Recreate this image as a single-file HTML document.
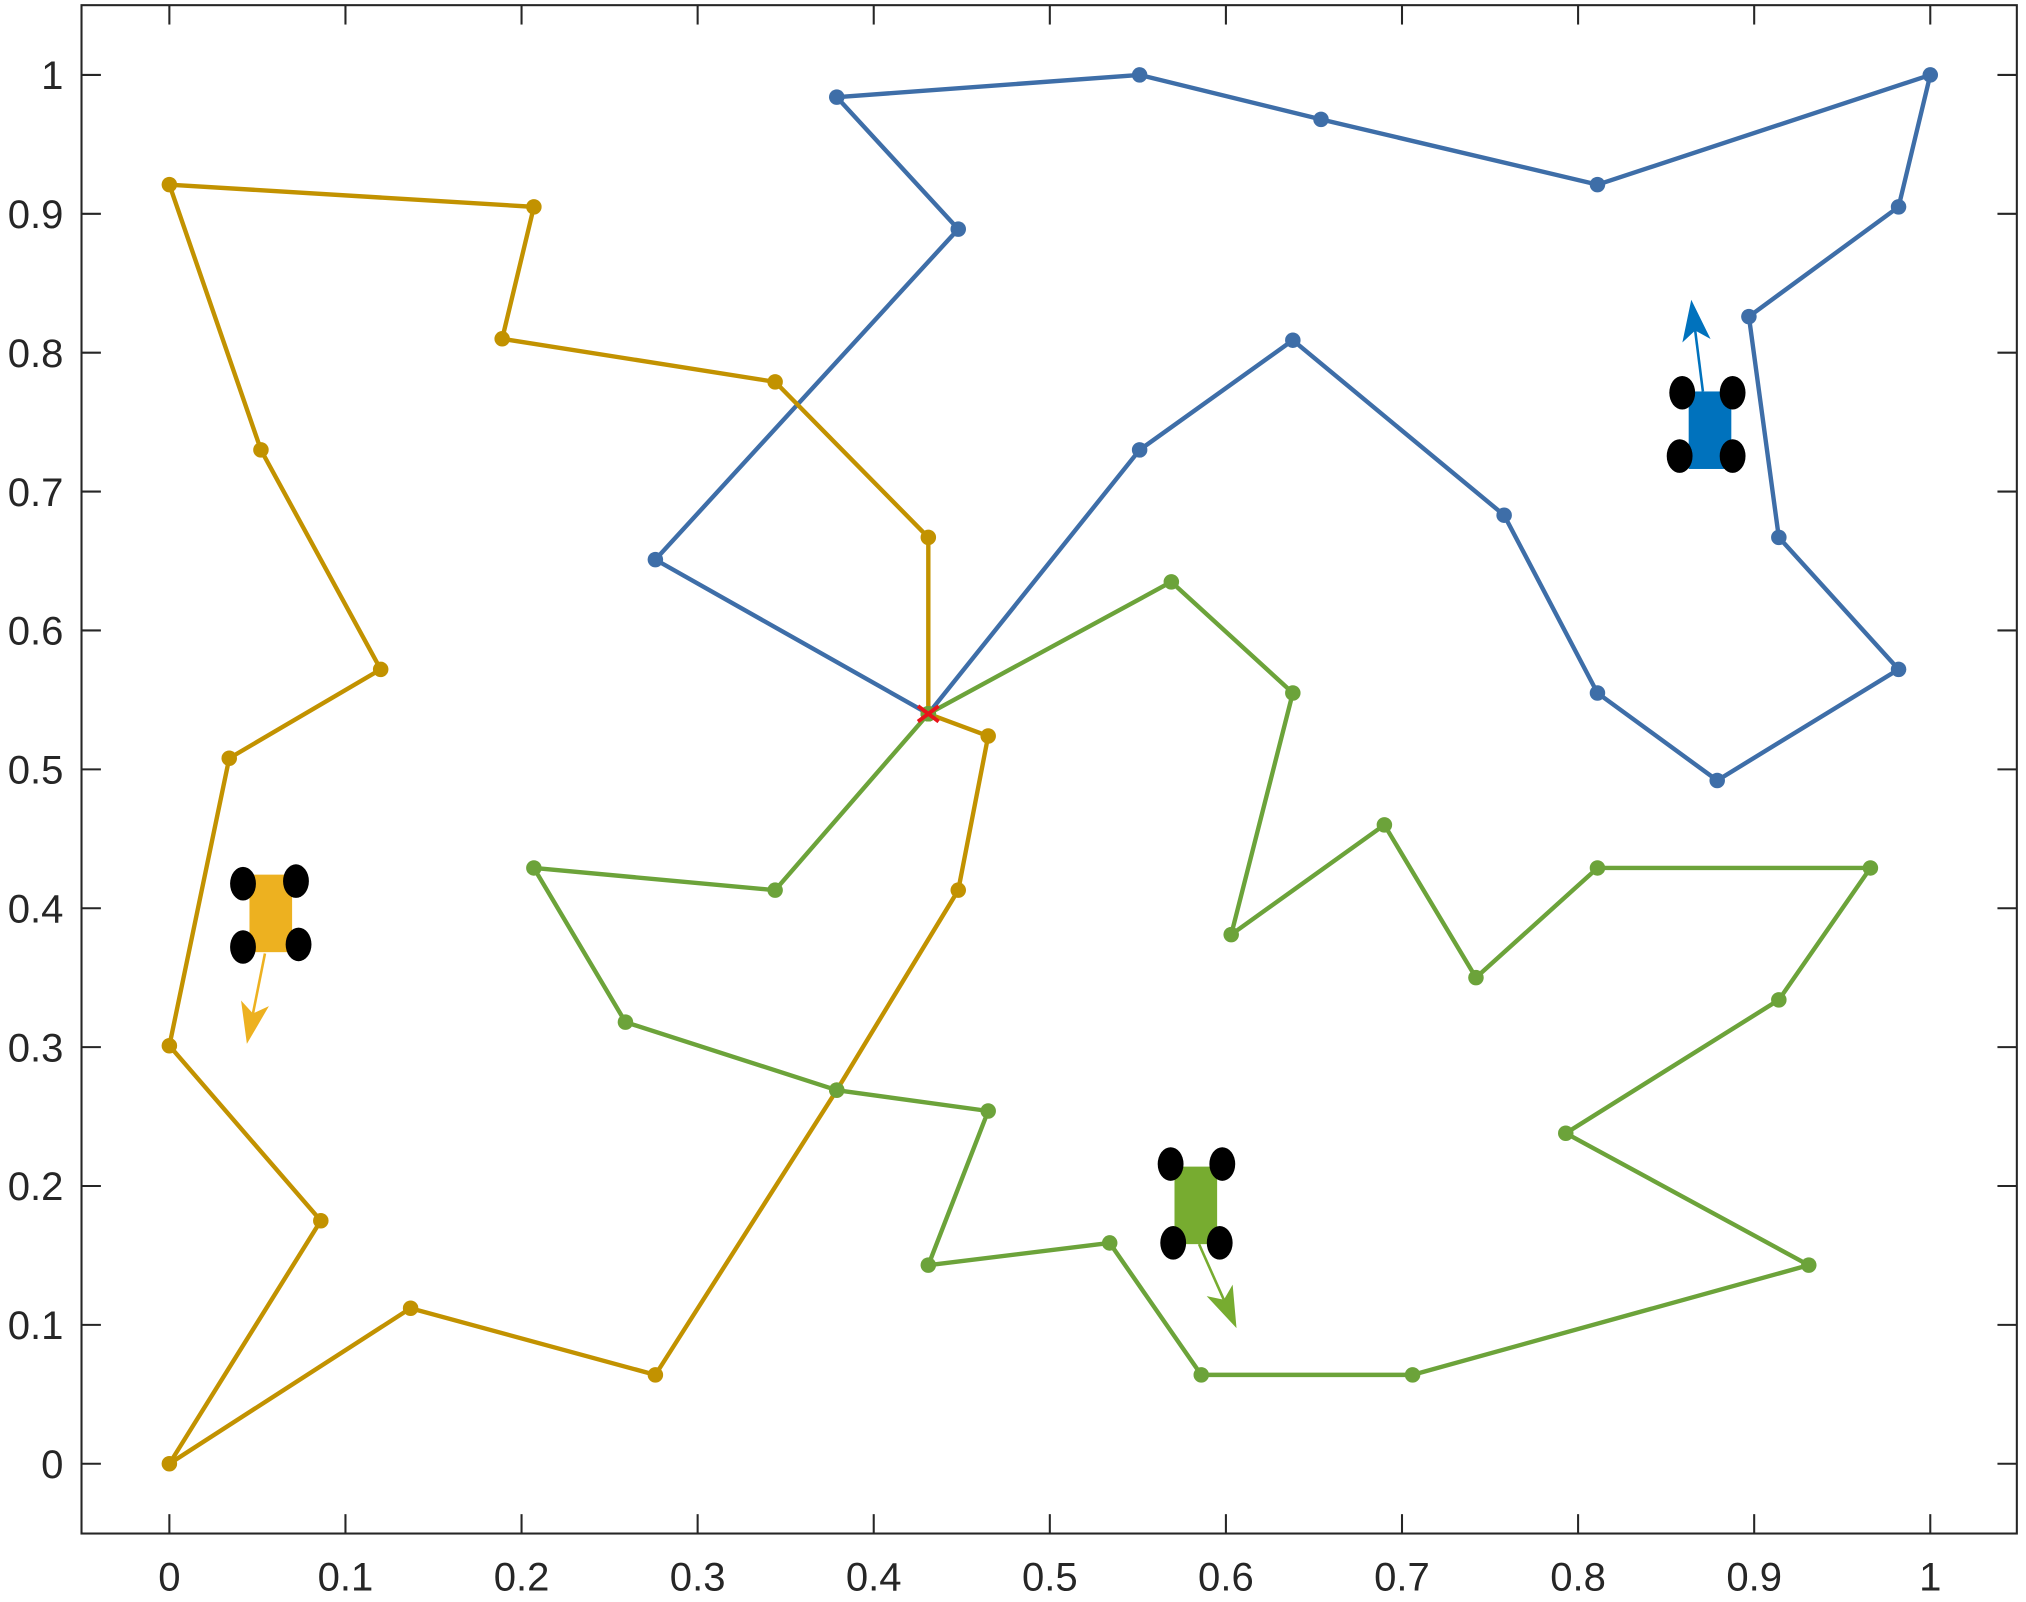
<!DOCTYPE html>
<html><head><meta charset="utf-8"><style>html,body{margin:0;padding:0;background:#fff}svg{display:block}</style></head>
<body>
<svg id="chart" width="2026" height="1602" viewBox="0 0 1568 1240" xmlns="http://www.w3.org/2000/svg" font-family="Liberation Sans, sans-serif">
<rect x="0" y="0" width="1568" height="1240" fill="#fff"/>
<g id="axes"></g>
<g id="series"></g>
<g id="vehicles"></g>
</svg>
<script>
const xTicks = [0,0.1,0.2,0.3,0.4,0.5,0.6,0.7,0.8,0.9,1];
const yTicks = [0,0.1,0.2,0.3,0.4,0.5,0.6,0.7,0.8,0.9,1];
const xTickLabels = ["0","0.1","0.2","0.3","0.4","0.5","0.6","0.7","0.8","0.9","1"];
const yTickLabels = ["0","0.1","0.2","0.3","0.4","0.5","0.6","0.7","0.8","0.9","1"];
const depot = [0.431, 0.540];
const blueX = [0.431,0.276,0.448,0.379,0.551,0.654,0.811,1.0,0.982,0.897,0.914,0.982,0.879,0.811,0.758,0.638,0.551,0.431];
const blueY = [0.540,0.651,0.889,0.984,1.0,0.968,0.921,1.0,0.905,0.826,0.667,0.572,0.492,0.555,0.683,0.809,0.730,0.540];
const goldX = [0.431,0.431,0.344,0.189,0.207,0,0.052,0.120,0.034,0,0.086,0,0.137,0.276,0.379,0.448,0.465,0.431];
const goldY = [0.540,0.667,0.779,0.810,0.905,0.921,0.730,0.572,0.508,0.301,0.175,0,0.112,0.064,0.269,0.413,0.524,0.540];
const greenX = [0.431,0.569,0.638,0.603,0.690,0.742,0.811,0.966,0.914,0.793,0.931,0.706,0.586,0.534,0.431,0.465,0.379,0.259,0.207,0.344,0.431];
const greenY = [0.540,0.635,0.555,0.381,0.460,0.350,0.429,0.429,0.334,0.238,0.143,0.064,0.064,0.159,0.143,0.254,0.269,0.318,0.429,0.413,0.540];

const NS = "http://www.w3.org/2000/svg";
const L = 63, T = 4, R = 1561, B = 1187;
function xs(v){ return 131 + v * 1363; }
function ys(v){ return 1133 - v * 1075; }
function mk(tag, attrs, parent){
  const e = document.createElementNS(NS, tag);
  for (const k in attrs) e.setAttribute(k, attrs[k]);
  parent.appendChild(e); return e;
}
const axes = document.getElementById('axes');
const frame = mk('rect', {x:L, y:T, width:R-L, height:B-T, fill:'none', stroke:'#262626', 'stroke-width':1.6}, axes);


xTicks.forEach((v,i)=>{
  const x = xs(v);
  mk('line',{x1:x,y1:B,x2:x,y2:B-15,stroke:'#262626','stroke-width':1.6},axes);
  mk('line',{x1:x,y1:T,x2:x,y2:T+15,stroke:'#262626','stroke-width':1.6},axes);
  const t = mk('text',{x:x,y:B+44,'text-anchor':'middle','font-size':31,fill:'#262626'},axes);
  t.textContent = xTickLabels[i];
  
  
});
yTicks.forEach((v,i)=>{
  const y = ys(v);
  mk('line',{x1:L,y1:y,x2:L+15,y2:y,stroke:'#262626','stroke-width':1.6},axes);
  mk('line',{x1:R,y1:y,x2:R-15,y2:y,stroke:'#262626','stroke-width':1.6},axes);
  const t = mk('text',{x:L-14,y:y+11,'text-anchor':'end','font-size':31,fill:'#262626'},axes);
  t.textContent = yTickLabels[i];
  
  
});
const series = document.getElementById('series');
function drawRoute(X, Y, color, name){
  const g = mk('g', {}, series);
  
  
  const pts = X.map((v,i)=> xs(v)+','+ys(Y[i])).join(' ');
  mk('polyline',{points:pts,fill:'none',stroke:color,'stroke-width':3.4,'stroke-linejoin':'round'},g);
  X.forEach((v,i)=>{
    const c = mk('circle',{cx:xs(v),cy:ys(Y[i]),r:6,fill:color},g);
    
    
  });
}
drawRoute(blueX, blueY, '#3e6ea8', 'blue-route');
drawRoute(goldX, goldY, '#c29200', 'gold-route');
drawRoute(greenX, greenY, '#6ca33a', 'green-route');
const star = mk('path',{d:`M${xs(depot[0])-8},${ys(depot[1])-6} L${xs(depot[0])+8},${ys(depot[1])+6} M${xs(depot[0])+8},${ys(depot[1])-6} L${xs(depot[0])-8},${ys(depot[1])+6}`,stroke:'#e8141b','stroke-width':3},series);



const veh = document.getElementById('vehicles');
function car(name, color, bx, by, wheels, ax1, ay1, ax2, ay2){
  const g = mk('g', {}, veh);
  
  
  mk('rect',{x:bx,y:by,width:33,height:60,fill:color},g);
  wheels.forEach(w=>mk('ellipse',{cx:w[0],cy:w[1],rx:10,ry:13,fill:'#000'},g));
  const dx = ax2-ax1, dy = ay2-ay1, len = Math.hypot(dx,dy), ux=dx/len, uy=dy/len;
  const hx = ax2-ux*32, hy = ay2-uy*32;
  mk('line',{x1:ax1,y1:ay1,x2:hx+ux*8,y2:hy+uy*8,stroke:color,'stroke-width':2},g);
  mk('polygon',{points:`${ax2},${ay2} ${hx-uy*11},${hy+ux*11} ${hx+ux*8},${hy+uy*8} ${hx+uy*11},${hy-ux*11}`,fill:color},g);
}
car('blue-vehicle','#0072bd',1307,303,[[1302,304],[1341,304],[1300,353],[1341,353]],1318,303,1309,232);
car('gold-vehicle','#edb120',193,677,[[188,684],[229,682],[188,733],[231,731]],205,738,191,808);
car('green-vehicle','#77ac30',909,903,[[906,901],[946,901],[908,962],[944,962]],928,963,957,1028);
</script>
</body></html>
